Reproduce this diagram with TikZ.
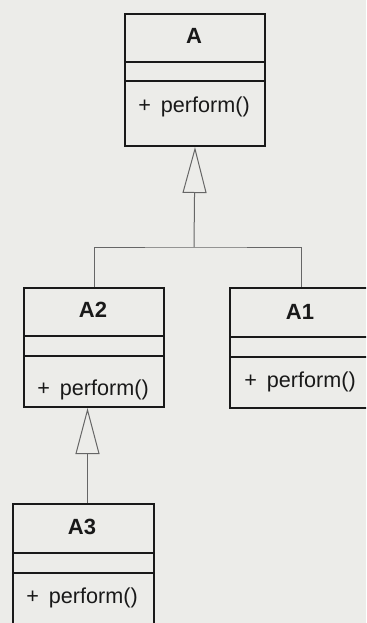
\documentclass[tikz,border=0pt]{standalone}
\usepackage{fontspec}
\setmainfont{Liberation Sans}
\usetikzlibrary{arrows.meta}
\definecolor{paper}{RGB}{236,236,233}
\definecolor{ink}{RGB}{25,25,25}
\tikzset{
  classbox/.style={draw=ink, line width=1pt, rectangle, inner sep=0pt, anchor=north west},
  classline/.style={draw=ink, line width=1pt},
  classname/.style={font=\fontsize{11}{13}\selectfont\bfseries, text=ink},
  classop/.style={font=\fontsize{10.8}{13}\selectfont, text=ink},
  inherit/.style={draw=black!60, line width=0.5pt, -{Triangle[open, width=12pt, length=23pt]}},
}
\begin{document}
\begin{tikzpicture}[x=0.5pt,y=-0.5pt]
        % paper
        \fill[paper] (0,0) rectangle (366,623);
        \useasboundingbox (0,0) rectangle (366,623);
        \clip (0,0) rectangle (366,623);

        % Class A
        \node[classbox, minimum width=70pt, minimum height=66pt] (A) at (124,13) {};
        \draw[classline] (A.west |- 0,62) -- (A.east |- 0,62);
        \draw[classline] (A.west |- 0,81) -- (A.east |- 0,81);
        \node[classname] (A-name) at (194,36) {A};
        \node[classop] (A-op) at (194,107) {+\hspace{2pt} perform()};

        % Class A2
        \node[classbox, minimum width=70pt, minimum height=59.5pt] (A2) at (23,287) {};
        \draw[classline] (A2.west |- 0,336) -- (A2.east |- 0,336);
        \draw[classline] (A2.west |- 0,356) -- (A2.east |- 0,356);
        \node[classname] (A2-name) at (93,310) {A2};
        \node[classop] (A2-op) at (93,390) {+\hspace{2pt} perform()};

        % Class A1 (runs off the right edge)
        \node[classbox, minimum width=71pt, minimum height=60pt] (A1) at (229,287) {};
        \draw[classline] (A1.west |- 0,337) -- (A1.east |- 0,337);
        \draw[classline] (A1.west |- 0,357) -- (A1.east |- 0,357);
        \node[classname] (A1-name) at (300,312) {A1};
        \node[classop] (A1-op) at (300,382) {+\hspace{2pt} perform()};

        % Class A3 (runs off the bottom edge)
        \node[classbox, minimum width=70.5pt, minimum height=62.5pt] (A3) at (12,503) {};
        \draw[classline] (A3.west |- 0,553) -- (A3.east |- 0,553);
        \draw[classline] (A3.west |- 0,573) -- (A3.east |- 0,573);
        \node[classname] (A3-name) at (82,527) {A3};
        \node[classop] (A3-op) at (82,598) {+\hspace{2pt} perform()};

        % Generalisations
        % A2, A1 to A
        \coordinate (fork) at (194,247);
        \draw[draw=black!60, line width=0.5pt] (A2.north) |- (fork) -| (A1.north);
        \draw[inherit] (fork) -- (A.south);

        % A3 to A2
        \draw[inherit] ([xshift=2pt]A3.north) -- ([xshift=2pt]A3.north |- A2.south);
\end{tikzpicture}
\end{document}
